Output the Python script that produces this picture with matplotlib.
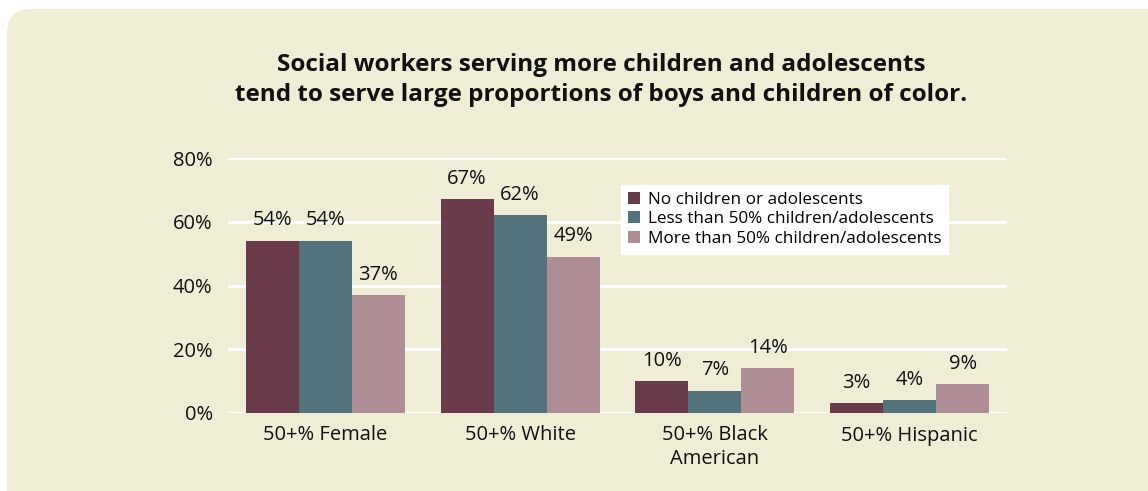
import matplotlib
matplotlib.use("Agg")
import matplotlib.pyplot as plt
from matplotlib.patches import FancyBboxPatch
import numpy as np

plt.rcParams['font.family'] = ['Open Sans', 'DejaVu Sans']

categories = ["50+% Female", "50+% White", "50+% Black\nAmerican", "50+% Hispanic"]
series_names = ["No children or adolescents",
                "Less than 50% children/adolescents",
                "More than 50% children/adolescents"]
no_children = [54, 67, 10, 3]
less_than_half = [54, 62, 7, 4]
more_than_half = [37, 49, 14, 9]
y_ticks = [0, 20, 40, 60, 80]
title = ("Social workers serving more children and adolescents\n"
         "tend to serve large proportions of boys and children of color.")

colors = ["#6A3C4B", "#53737C", "#AF8D95"]
panel_bg = "#EFEDD5"
text_color = "#111111"
W, H = 1148, 491

fig = plt.figure(figsize=(W / 100, H / 100), dpi=100)
fig.patch.set_facecolor("white")

# rounded background panel, laid out in pixel units
bg = fig.add_axes([0, 0, 1, 1], zorder=-1)
bg.set_xlim(0, W)
bg.set_ylim(H, 0)
bg.axis("off")
bg.add_patch(FancyBboxPatch((7, 9), W + 40, H + 40,
                            boxstyle="round,pad=0,rounding_size=24",
                            facecolor=panel_bg, edgecolor="none"))

ax = fig.add_axes([228 / W, 1 - 413 / H, (1007 - 228) / W, (413 - 158) / H])
ax.set_facecolor("none")

x = np.arange(len(categories))
width = 0.272
series = [no_children, less_than_half, more_than_half]
for i, (vals, name, c) in enumerate(zip(series, series_names, colors)):
    pos = x + (i - 1) * width
    bars = ax.bar(pos, vals, width, color=c, label=name, zorder=3)
    for b, v in zip(bars, vals):
        ax.text(b.get_x() + b.get_width() / 2, v + 3.3, f"{v}%",
                ha="center", va="bottom", fontsize=14.5, color=text_color)

ax.set_xlim(-0.5, 3.5)
ax.set_ylim(0, 80)
ax.set_yticks(y_ticks)
ax.set_yticklabels([f"{t}%" for t in y_ticks], fontsize=14.5, color=text_color)
ax.yaxis.grid(True, color="white", linewidth=2, zorder=1)
ax.set_axisbelow(True)
ax.tick_params(axis="y", length=0, pad=11)
ax.set_xticks(x)
ax.set_xticklabels(categories, fontsize=14.5, color=text_color, linespacing=1.2)
ax.tick_params(axis="x", length=0, pad=9)
for s in ax.spines.values():
    s.set_visible(False)
ax.axhline(0, color="white", linewidth=2.5, zorder=2)

ax.legend(loc="upper left", bbox_to_anchor=((621 - 228) / 779, (413 - 185) / 255),
          fontsize=12.3, frameon=True, fancybox=False, framealpha=1,
          edgecolor="white", facecolor="white", handlelength=0.72,
          handleheight=0.72, handletextpad=0.45, labelspacing=0.2,
          borderpad=0.4, borderaxespad=0)

fig.text(601 / W, 1 - 80 / H, title, ha="center", va="center",
         fontsize=17.5, fontweight="bold", color=text_color, linespacing=1.32)

fig.savefig("out.png", dpi=100, facecolor=fig.get_facecolor())
